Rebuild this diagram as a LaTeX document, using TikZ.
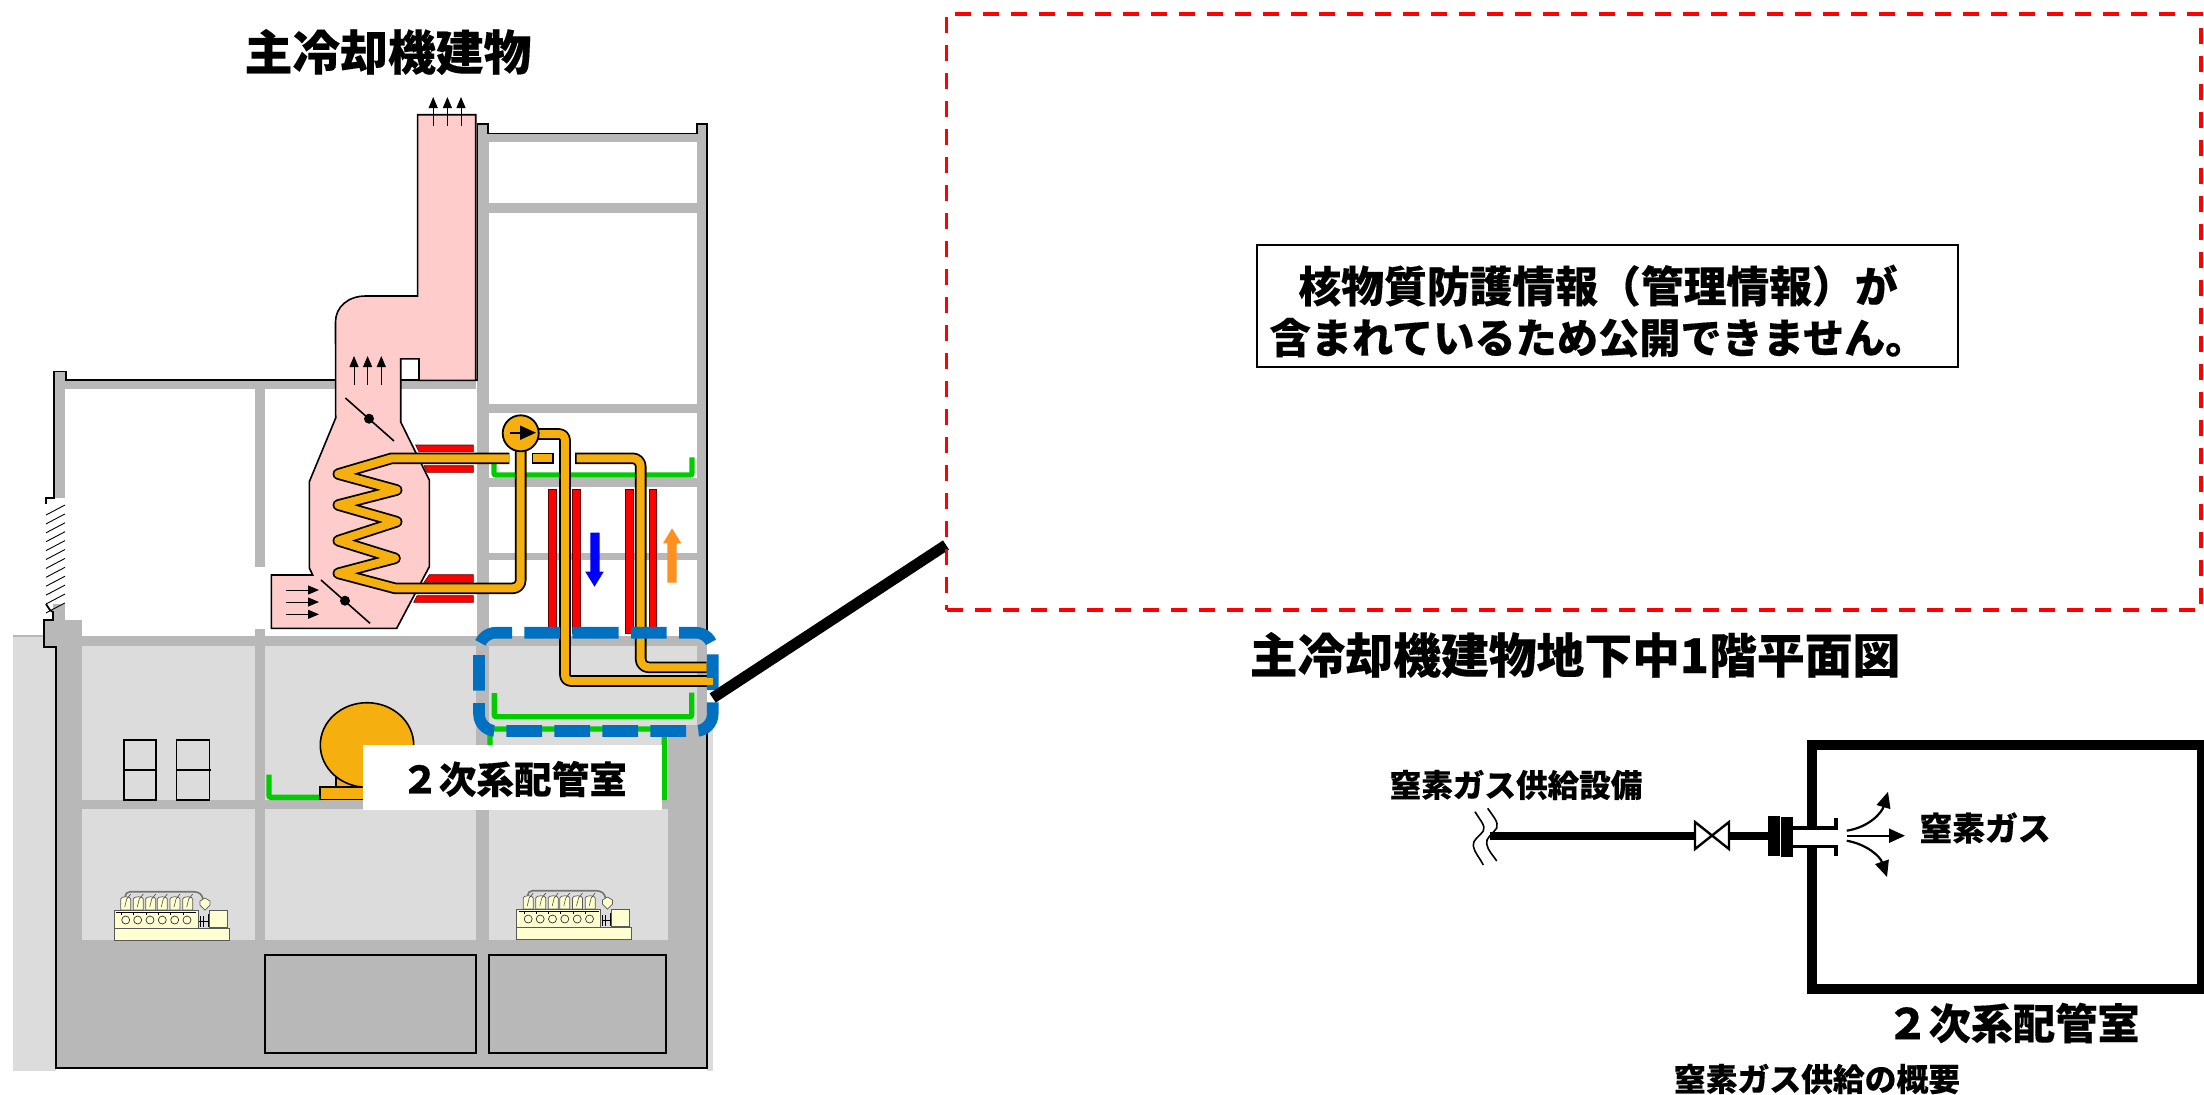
\documentclass[tikz,border=0pt]{standalone}
\usepackage{fontspec}
\setmainfont{Noto Sans CJK JP Black}[FakeBold=0.25]
\usetikzlibrary{arrows.meta}
\definecolor{wallg}{HTML}{B8B8B8}
\definecolor{roomg}{HTML}{DCDCDC}
\definecolor{pinkd}{HTML}{FFCCCC}
\definecolor{piper}{HTML}{F5B00F}
\definecolor{greenl}{HTML}{00CC00}
\definecolor{blued}{HTML}{0070C0}
\definecolor{arrowo}{HTML}{FF8F1F}
\definecolor{engy}{HTML}{FFFFD2}
\tikzset{
  x=0.5pt,y=-0.5pt,
  wall/.style={fill=wallg,draw=none},
  room/.style={fill=roomg,draw=none},
  outl/.style={draw=black,line width=0.9pt,line join=miter},
  redbar/.style={fill=red,draw=black!60!red,line width=0.3pt},
  pipeo/.style={draw=black,line width=5.8pt,line join=round},
  pipei/.style={draw=piper,line width=4pt,line join=round},
  greenline/.style={draw=greenl,line width=2.7pt,rounded corners=1pt},
  flow/.style={draw=black,line width=0.5pt,-{Triangle[length=5.5pt,width=4.5pt]}},
  damper/.style={draw=black,line width=0.8pt},
  dampdot/.style={fill=black,draw=none},
  thickl/.style={draw=black,line width=5.5pt},
  lab/.style={inner sep=0pt,anchor=center,align=center},
  engl/.style={draw=black!65,line width=0.35pt,fill=engy},
  gasarrow/.style={draw=black,line width=1.1pt,-{Triangle[length=8pt,width=7pt]}},
}
\newcommand{\enginepic}[2]{%
\begin{scope}[shift={(#1,#2)}]
  \draw[draw=black!55,line width=0.8pt] (25,27) .. controls (25,24) and (27,21.7) .. (30,21.7) -- (93.3,21.7) .. controls (100,21.7) and (102,25) .. (103,29);
  \foreach \i in {20.7,33.3,45.7,57.3,70,82.7}{
    \draw[engl] (\i,29) .. controls (\i,26) and (\i+10,26) .. (\i+10,29) -- (\i+10,40) -- (\i,40) -- cycle;
    \draw[draw=black!70,line width=0.3pt] (\i+4,37) -- (\i+6,29) -- (\i+10,24);
  }
  \draw[engl] (100,31) -- (105,28) -- (110,31) -- (110,35) -- (105,40) -- (100,35) -- cycle;
  \draw[engl] (14.3,58) rectangle (129.3,70);
  \draw[engl] (14.3,40) rectangle (98.3,58);
  \draw[engl] (109.3,40) rectangle (127.3,57);
  \draw[draw=black,line width=0.4pt] (16,42.5) -- (96,42.5);
  \foreach \i in {25.7,37.7,50,62.3,74.7,87}{
    \draw[engl,draw=black!80] (\i,50) circle [radius=4];
    \draw[draw=black,line width=0.4pt] (\i-4,42.5) -- (\i-4,45);
  }
  \draw[draw=black,line width=0.5pt] (100,46) -- (100,57) (103,46) -- (103,57) (99,51) -- (108,51) (108,44) -- (108,57);
\end{scope}}
\begin{document}
\begin{tikzpicture}
\useasboundingbox (0,0) rectangle (2204,1094);
% ---- ground strips
\fill[roomg] (13,636) rectangle (56,1071);
\fill[roomg] (707,728) rectangle (712.6,1071);
\draw[wallg,line width=0.7pt] (13,636) -- (44,636);
% ---- building mass
\fill[wall] (56,636) rectangle (707,1068);
\fill[wall] (65,620) rectangle (82,640);
\fill[wall] (44,620) rectangle (65,647);
\fill[wall] (53,604) rectangle (65,622);
\fill[wall] (54,371) rectangle (65,498);
\fill[wall] (54,379.6) rectangle (476,389);
\fill[wall] (255,389) rectangle (265,567);
\fill[wall] (255,629) rectangle (265,640);
\fill[wall] (476.6,123.7) rectangle (489.4,640);
\fill[wall] (696.6,123.7) rectangle (707,640);
\fill[wall] (488,133.5) rectangle (697,142.4);
\fill[wall] (489,203) rectangle (697,212.6);
\fill[wall] (489,404) rectangle (697,413);
\fill[wall] (489,478) rectangle (697,487);
\fill[wall] (489,552.5) rectangle (697,560);
% ---- rooms
\fill[room] (82,646) rectangle (255,800);
\fill[room] (265,646) rectangle (476,800);
\fill[room] (489.4,646) rectangle (696.6,725);
\fill[room] (489.4,725) rectangle (668,800);
\fill[room] (82,809) rectangle (255,940);
\fill[room] (265,809) rectangle (476,940);
\fill[room] (489.4,809) rectangle (668,940);
% ---- outlines
\draw[outl] (335.5,379.6) -- (66,379.6) -- (66,371.4) -- (54,371.4) -- (54,498) -- (46,498) -- (46,504);
\draw[outl] (400,380) -- (477.5,380) -- (477.5,123.7) -- (488,123.7) -- (488,133.5) -- (696.6,133.5) -- (696.6,123.7) -- (707,123.7) -- (707,637);
\draw[outl] (46,604) -- (50,610) -- (53,612) -- (53,620) -- (44,620) -- (44,647) -- (56,647) -- (56,1068) -- (707,1068) -- (707,728) -- (712.6,728);
\foreach \k in {0,...,11}{
  \draw[draw=black,line width=0.45pt] (46,515+\k*8.9) -- (65,505+\k*8.9);
}
% ---- cabinets and lower rectangles
\foreach \a/\b in {123.6/156.2,176.5/209.5}{
  \draw[draw=black,line width=0.9pt] (\a,740) rectangle (\b,800);
  \draw[draw=black,line width=0.9pt] (\a,770) -- (\b+1,770);
}
\draw[draw=black,line width=1pt] (264.7,955) rectangle (475.7,1052.7);
\draw[draw=black,line width=1pt] (489,955) rectangle (666,1052.7);
% ---- engines
\enginepic{100}{870}
\enginepic{502.5}{869}
% ---- red bars
\fill[redbar] (415.7,445) -- (473.3,445) -- (473.3,451.7) -- (419,451.7) -- cycle;
\fill[redbar] (424,465.7) -- (473.3,465.7) -- (473.3,472.3) -- (427,472.3) -- cycle;
\fill[redbar] (429.3,574.7) -- (473.3,574.7) -- (473.3,582.3) -- (424,582.3) -- cycle;
\fill[redbar] (417,595.7) -- (473.3,595.7) -- (473.3,602.3) -- (413.7,602.3) -- cycle;
\foreach \a/\b in {548/556.7,572.3/580,625/633.7,649/656.7}{
  \fill[redbar] (\a,489.3) rectangle (\b,633.3);
}
% ---- pink duct
\draw[fill=pinkd,draw=black,line width=0.8pt,line join=miter]
 (417.6,114.7) -- (417.6,296) -- (365.7,296) .. controls (348,296) and (335.5,307) .. (335.5,322)
 -- (335.7,418) -- (309.3,481.7) -- (309.3,568) -- (312.7,575) -- (271.3,575) -- (271.3,628.3) -- (396.7,628.3)
 -- (429.3,566.7) -- (429.3,480) -- (400.7,422) -- (400.7,358.8) -- (419,358.8) -- (419,380.4) -- (475.7,380.4) -- (475.7,114.7) -- cycle;
% ---- small arrows
\foreach \a in {433.2,447.4,461}{\draw[flow] (\a,125.7) -- (\a,97);}
\foreach \a in {354,367.6,381.3}{\draw[flow] (\a,384.5) -- (\a,356);}
\foreach \b in {590,602,614.3}{\draw[flow] (285.7,\b) -- (319,\b);}
% ---- dampers
\draw[damper] (345.4,398) -- (394,441);
\fill[dampdot] (369,418.7) circle [radius=5];
\draw[damper] (321,580) -- (370,623.3);
\fill[dampdot] (345,600.7) circle [radius=5];
% ---- green lines
\draw[greenline] (494,463.3) -- (494,475) -- (692,475) -- (692,457.3);
\draw[greenline] (494.3,693) -- (494.3,716.7) -- (691.7,716.7) -- (691.7,692.7);
\draw[greenline] (490,747) -- (490,729) -- (664.4,729) -- (664.4,800);
\draw[greenline] (269,774.6) -- (269,797.3) -- (321,797.3);
% ---- tank
\draw[fill=piper,draw=black,line width=0.8pt] (336,770) rectangle (370,787);
\draw[fill=piper,draw=black,line width=0.8pt] (320,787) rectangle (370,799.3);
\draw[fill=piper,draw=black,line width=0.8pt] (367,745) ellipse [x radius=46.7,y radius=42.3];
% ---- pipes
\foreach \s in {pipeo,pipei}{
  \draw[\s] (509.3,458.3) -- (391.7,458.3) -- (338.3,474) -- (396.7,490) -- (338.3,505) -- (396.7,521.7) -- (338.3,540.7) -- (395,558.3) -- (338.3,573.3) -- (395,588.3) [rounded corners=4pt] -- (520.7,588.3) -- (520.7,433);
}
\draw[pipeo] (531.7,458.3) -- (554,458.3);
\draw[pipei,shorten <=0.8pt,shorten >=0.8pt] (531.7,458.3) -- (554,458.3);
\draw[pipeo] (575,458.3) [rounded corners=4pt] -- (640.7,458.3) -- (640.7,667.3) -- (706.7,667.3);
\draw[pipei,shorten <=0.8pt] (575,458.3) [rounded corners=4pt] -- (640.7,458.3) -- (640.7,667.3) -- (706.7,667.3);
\draw[pipeo] (530,434) [rounded corners=3pt] -- (565,434) -- (565,681) -- (707,681);
\draw[pipei] (530,434) [rounded corners=3pt] -- (565,434) -- (565,681) -- (707,681);
% ---- pump
\draw[fill=piper,draw=black,line width=0.9pt] (520.7,433.3) circle [radius=18];
\draw[draw=black,line width=1pt,-{Triangle[length=8pt,width=7pt]}] (510,432.7) -- (536,432.7);
% ---- flow arrows
\fill[blue] (590.3,532.7) -- (599.7,532.7) -- (599.7,571.7) -- (603.7,571.7) -- (594.5,586.7) -- (585.3,571.7) -- (590.3,571.7) -- cycle;
\fill[arrowo] (667.3,582.7) -- (676.7,582.7) -- (676.7,543.3) -- (681.3,543.3) -- (672,528.3) -- (663,543.3) -- (667.3,543.3) -- cycle;
% ---- blue dashed frame
\draw[draw=blued,line width=5.8pt,dash pattern=on 17.85pt off 6.15pt,rounded corners=8.5pt]
 (566,632.7) -- (712.7,632.7) -- (712.7,731) -- (479,731) -- (479,632.7) -- cycle;
\fill[piper] (706,677.5) rectangle (712.7,684.5);
% ---- label box
\fill[white] (363,745) rectangle (661.5,809.6);
\node[lab,font=\fontsize{18.8}{18.8}\selectfont] (roomlabel) at (514,779) {２次系配管室};
% ---- leader and red box
\coordinate (leadA) at (712.7,698);
\coordinate (leadB) at (946,545);
\draw[thickl] (leadA) -- (leadB);
\draw[draw=red,line width=1.7pt,dash pattern=on 8pt off 6pt] (946.7,610) -- (2201,610) -- (2201,14) -- (946.7,14) -- cycle;
\draw[draw=black,fill=white,line width=1.1pt] (1257,245) rectangle (1958,367);
\node[lab,font=\fontsize{20.6}{25.5}\selectfont] (secret) at (1598,311) {{\fontsize{21.4}{25.5}\selectfont 核物質防護情報（管理情報）が}\\含まれているため公開できません。};
\node[lab,font=\fontsize{23.9}{23.9}\selectfont] (title) at (388,52) {主冷却機建物};
\node[lab,font=\fontsize{23.9}{23.9}\selectfont] (plan) at (1575,655) {主冷却機建物地下中1階平面図};
% ---- nitrogen schematic
\draw[draw=black,line width=4.6pt] (1812,827) -- (1812,745) -- (2202,745) -- (2202,989) -- (1812,989) -- (1812,848);
\draw[draw=black,line width=4pt] (1490,835.8) -- (1694,835.8);
\draw[draw=black,line width=4pt] (1730,835.8) -- (1768,835.8);
\draw[fill=white,draw=black,line width=1.2pt,line join=miter] (1695,822) -- (1729,849) -- (1729,822) -- (1695,849) -- cycle;
\fill[black] (1767.7,815.7) rectangle (1780,856);
\fill[black] (1781,816.7) rectangle (1793.3,856.7);
\fill[black] (1793,825.7) rectangle (1838,830);
\fill[black] (1834.3,818) rectangle (1838,830);
\fill[black] (1793,845) rectangle (1838,848.3);
\fill[black] (1834.3,845) rectangle (1838,855.7);
\draw[draw=black,line width=0.8pt] (1475,811.7) .. controls (1480,820) and (1486,826) .. (1483.3,831) .. controls (1480,836) and (1472,840) .. (1473.3,846) .. controls (1474.5,853) and (1480,858) .. (1483.3,865);
\draw[draw=black,line width=0.8pt] (1487.7,808.3) .. controls (1492.7,816) and (1499,822) .. (1496.7,828) .. controls (1493,834) and (1485,838) .. (1486.7,844) .. controls (1488,851) and (1493,855) .. (1496.7,861);
\draw[gasarrow] (1846.7,835.7) -- (1905,835.7);
\draw[gasarrow] (1846.7,830.7) .. controls (1870,827) and (1882,812) .. (1888,791.7);
\draw[gasarrow] (1846.7,840.7) .. controls (1866,844) and (1880,856) .. (1887,877);
\node[lab,font=\fontsize{15.8}{15.8}\selectfont] (n2supply) at (1516,785) {窒素ガス供給設備};
\node[lab,font=\fontsize{16.4}{16.4}\selectfont] (n2gas) at (1985,828) {窒素ガス};
\node[lab,font=\fontsize{21.1}{21.1}\selectfont] (room2) at (2013,1023) {２次系配管室};
\node[lab,font=\fontsize{15.9}{15.9}\selectfont] (overview) at (1817,1079) {窒素ガス供給の概要};
\end{tikzpicture}
\end{document}
